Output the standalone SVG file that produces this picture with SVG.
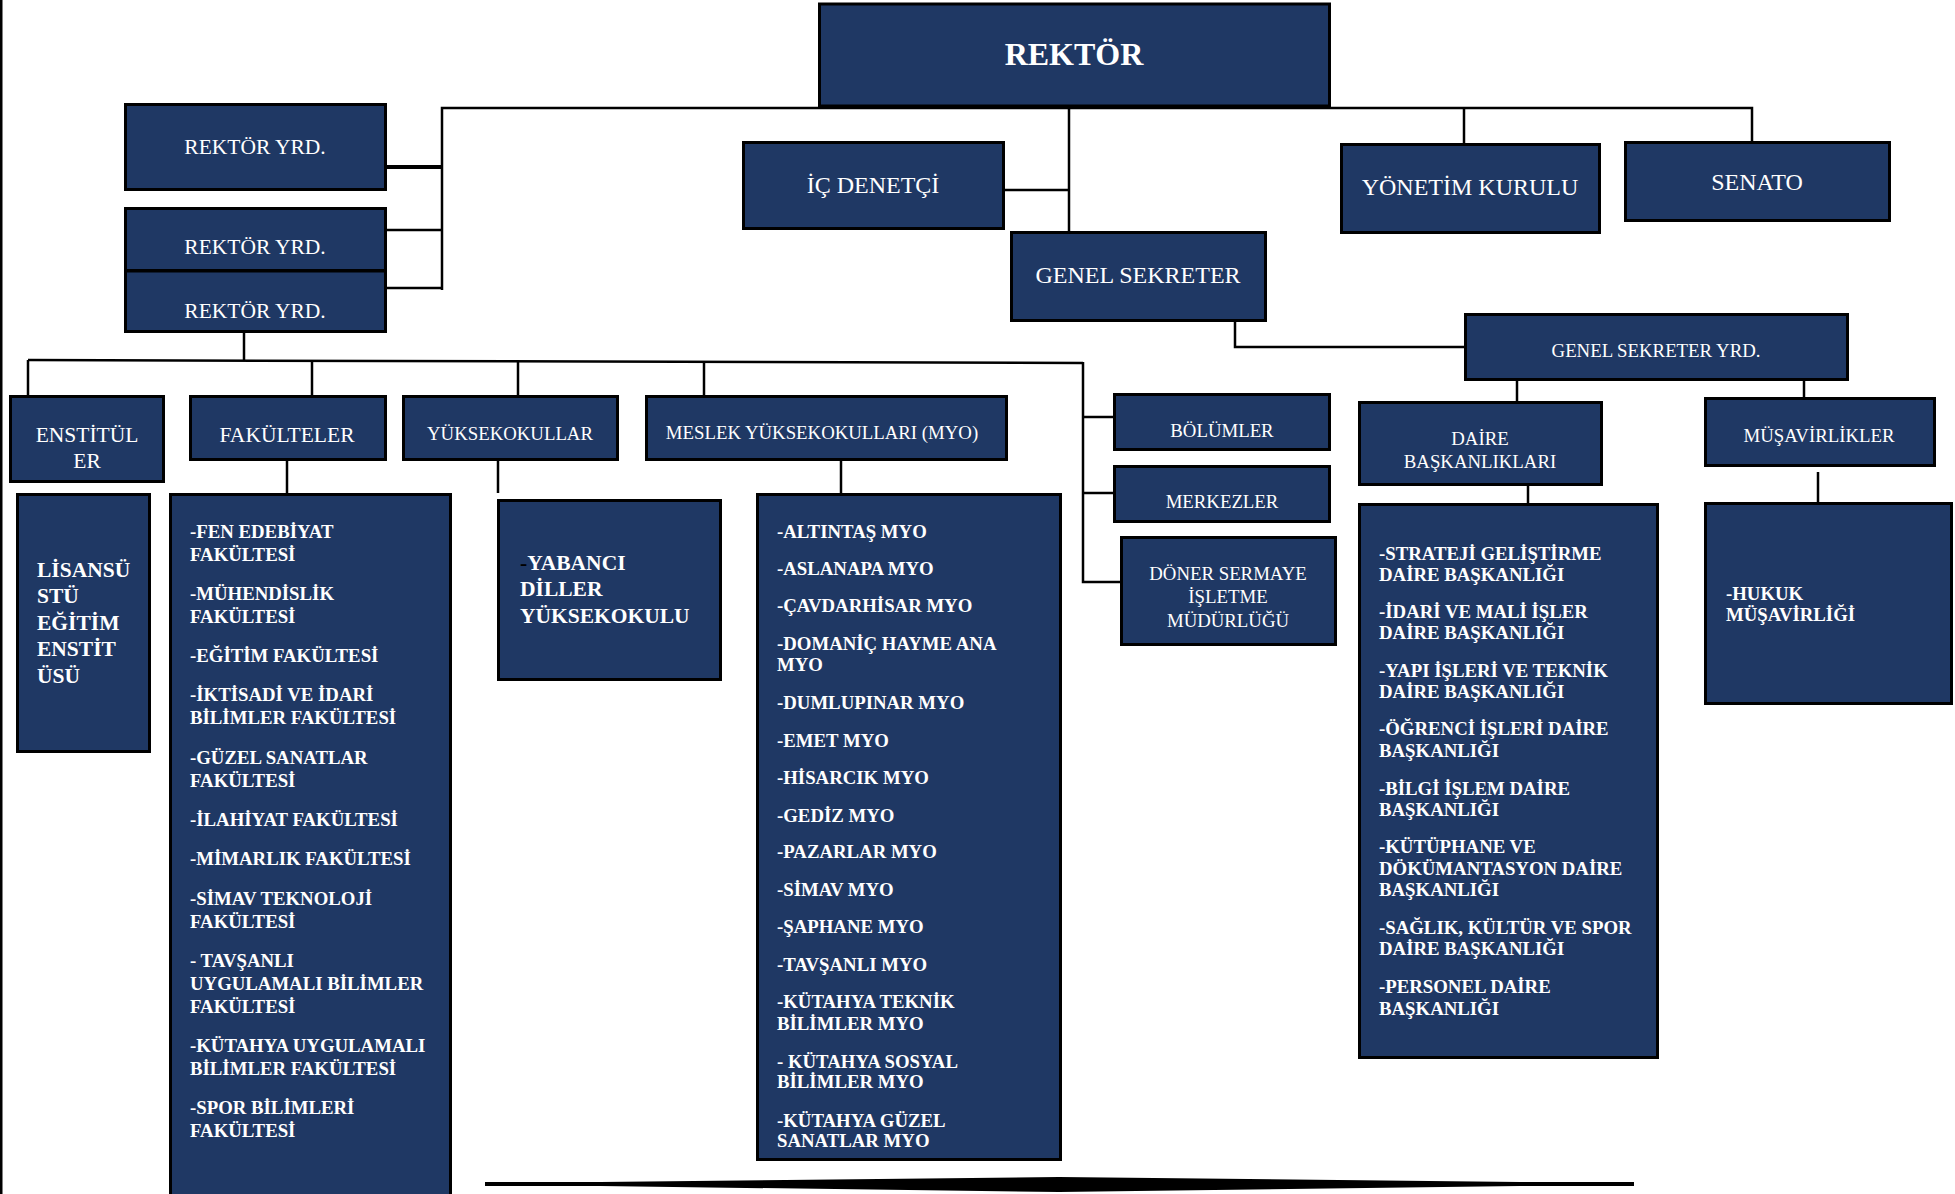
<svg xmlns="http://www.w3.org/2000/svg" width="1955" height="1194" viewBox="0 0 1955 1194">
<style>
.box{fill:#1F3864;stroke:#000;stroke-width:3}
.t{font-family:"Liberation Serif","Times New Roman",serif;fill:#fff}
.c{text-anchor:middle}
.b{font-weight:bold}
.s18{font-size:18.8px}
.s21{font-size:21.5px}
.s23{font-size:24px}
.ln{stroke:#000;stroke-width:2.5;fill:none}
</style>
<rect x="0" y="0" width="1955" height="1194" fill="#fff"/>
<rect x="0" y="0" width="2.5" height="1194" fill="#000"/>

<g id="connectors">
<polyline class="ln" points="442,290 442,108 1752,108 1752,141"/>
<line class="ln" x1="387" y1="167" x2="442" y2="167" style="stroke-width:4"/>
<line class="ln" x1="387" y1="230" x2="442" y2="230"/>
<line class="ln" x1="387" y1="288" x2="442" y2="288"/>
<line class="ln" x1="244" y1="322" x2="244" y2="360"/>
<line class="ln" x1="28" y1="360" x2="1083" y2="363"/>
<line class="ln" x1="28" y1="360" x2="28" y2="395"/>
<line class="ln" x1="312" y1="361" x2="312" y2="395"/>
<line class="ln" x1="518" y1="361" x2="518" y2="395"/>
<line class="ln" x1="704" y1="361" x2="704" y2="395"/>
<polyline class="ln" points="1083,362 1083,582 1120,582"/>
<line class="ln" x1="1083" y1="417" x2="1113" y2="417"/>
<line class="ln" x1="1083" y1="493" x2="1113" y2="493"/>
<line class="ln" x1="1069" y1="107" x2="1069" y2="231"/>
<line class="ln" x1="1005" y1="190" x2="1069" y2="190"/>
<line class="ln" x1="1464" y1="107" x2="1464" y2="166"/>
<polyline class="ln" points="1235,307 1235,347 1464,347"/>
<line class="ln" x1="1517" y1="369" x2="1517" y2="401"/>
<line class="ln" x1="1804" y1="369" x2="1804" y2="397"/>
<line class="ln" x1="1528" y1="472" x2="1528" y2="503"/>
<line class="ln" x1="1818" y1="472" x2="1818" y2="502"/>
<line class="ln" x1="287" y1="461" x2="287" y2="493"/>
<line class="ln" x1="498" y1="461" x2="498" y2="493"/>
<line class="ln" x1="841" y1="461" x2="841" y2="493"/>
</g>

<g id="rektor">
<rect class="box" x="819.5" y="4" width="510" height="102"/>
<text class="t c b" x="1074" y="65" style="font-size:32px">REKTÖR</text>
</g>
<g id="rektor-yrd-1">
<rect class="box" x="125.5" y="104.5" width="260" height="85"/>
<text class="t c s21" x="255" y="154">REKTÖR YRD.</text>
</g>
<g id="rektor-yrd-2">
<rect class="box" x="125.5" y="208.5" width="260" height="62"/>
<text class="t c s21" x="255" y="254">REKTÖR YRD.</text>
</g>
<g id="rektor-yrd-3">
<rect class="box" x="125.5" y="271" width="260" height="60.5"/>
<text class="t c s21" x="255" y="318">REKTÖR YRD.</text>
</g>
<g id="ic-denetci">
<rect class="box" x="743.5" y="142.5" width="260" height="86"/>
<text class="t c s23" x="873" y="193">İÇ DENETÇİ</text>
</g>
<g id="genel-sekreter">
<rect class="box" x="1011.5" y="232.5" width="254" height="88"/>
<text class="t c s23" x="1138" y="283">GENEL SEKRETER</text>
</g>
<g id="yonetim-kurulu">
<rect class="box" x="1341.5" y="144.5" width="258" height="88"/>
<text class="t c s23" x="1470" y="195">YÖNETİM KURULU</text>
</g>
<g id="senato">
<rect class="box" x="1625.5" y="142.5" width="264" height="78"/>
<text class="t c s23" x="1757" y="190">SENATO</text>
</g>
<g id="genel-sekreter-yrd">
<rect class="box" x="1465.5" y="314.5" width="382" height="65"/>
<text class="t c s18" x="1656" y="357">GENEL SEKRETER YRD.</text>
</g>
<g id="enstituler">
<rect class="box" x="10.5" y="396.5" width="153" height="85"/>
<text class="t c s21" x="87" y="442">ENSTİTÜL</text>
<text class="t c s21" x="87" y="468">ER</text>
</g>
<g id="fakulteler">
<rect class="box" x="190.5" y="396.5" width="195" height="63"/>
<text class="t c s21" x="287" y="442">FAKÜLTELER</text>
</g>
<g id="yuksekokullar">
<rect class="box" x="403.5" y="396.5" width="214" height="63"/>
<text class="t c s18" x="510" y="440">YÜKSEKOKULLAR</text>
</g>
<g id="myo">
<rect class="box" x="646.5" y="396.5" width="360" height="63"/>
<text class="t c s18" x="822" y="439">MESLEK YÜKSEKOKULLARI (MYO)</text>
</g>
<g id="bolumler">
<rect class="box" x="1114.5" y="394.5" width="215" height="55"/>
<text class="t c s18" x="1222" y="437">BÖLÜMLER</text>
</g>
<g id="merkezler">
<rect class="box" x="1114.5" y="466.5" width="215" height="55"/>
<text class="t c s18" x="1222" y="508">MERKEZLER</text>
</g>
<g id="doner-sermaye">
<rect class="box" x="1121.5" y="537.5" width="214" height="107"/>
<text class="t c s18" x="1228" y="580">DÖNER SERMAYE</text>
<text class="t c s18" x="1228" y="603">İŞLETME</text>
<text class="t c s18" x="1228" y="627">MÜDÜRLÜĞÜ</text>
</g>
<g id="daire-baskanliklari">
<rect class="box" x="1359.5" y="402.5" width="242" height="82"/>
<text class="t c s18" x="1480" y="445">DAİRE</text>
<text class="t c s18" x="1480" y="468">BAŞKANLIKLARI</text>
</g>
<g id="musavirlikler">
<rect class="box" x="1705.5" y="398.5" width="229" height="67"/>
<text class="t c s18" x="1819" y="442">MÜŞAVİRLİKLER</text>
</g>

<g id="lisansustu">
<rect class="box" x="17.5" y="494.5" width="132" height="257"/>
<text class="t b s21" x="37" y="577">LİSANSÜ</text>
<text class="t b s21" x="37" y="603">STÜ</text>
<text class="t b s21" x="37" y="630">EĞİTİM</text>
<text class="t b s21" x="37" y="656">ENSTİT</text>
<text class="t b s21" x="37" y="683">ÜSÜ</text>
</g>

<g id="fakulte-listesi">
<rect class="box" x="170.5" y="494.5" width="280" height="710"/>
<g class="t b s18">
<text x="190" y="538">-FEN EDEBİYAT</text>
<text x="190" y="561">FAKÜLTESİ</text>
<text x="190" y="600">-MÜHENDİSLİK</text>
<text x="190" y="623">FAKÜLTESİ</text>
<text x="190" y="662">-EĞİTİM FAKÜLTESİ</text>
<text x="190" y="701">-İKTİSADİ VE İDARİ</text>
<text x="190" y="724">BİLİMLER FAKÜLTESİ</text>
<text x="190" y="764">-GÜZEL SANATLAR</text>
<text x="190" y="787">FAKÜLTESİ</text>
<text x="190" y="826">-İLAHİYAT FAKÜLTESİ</text>
<text x="190" y="865">-MİMARLIK FAKÜLTESİ</text>
<text x="190" y="905">-SİMAV TEKNOLOJİ</text>
<text x="190" y="928">FAKÜLTESİ</text>
<text x="190" y="967">- TAVŞANLI</text>
<text x="190" y="990">UYGULAMALI BİLİMLER</text>
<text x="190" y="1013">FAKÜLTESİ</text>
<text x="190" y="1052">-KÜTAHYA UYGULAMALI</text>
<text x="190" y="1075">BİLİMLER FAKÜLTESİ</text>
<text x="190" y="1114">-SPOR BİLİMLERİ</text>
<text x="190" y="1137">FAKÜLTESİ</text>
</g>
</g>

<g id="yabanci-diller">
<rect class="box" x="498.5" y="500.5" width="222" height="179"/>
<text class="t b s21" x="520" y="570"><tspan fill="#000">-</tspan>YABANCI</text>
<text class="t b s21" x="520" y="596">DİLLER</text>
<text class="t b s21" x="520" y="623">YÜKSEKOKULU</text>
</g>

<g id="myo-listesi">
<rect class="box" x="757.5" y="494.5" width="303" height="665"/>
<g class="t b s18">
<text x="777" y="538">-ALTINTAŞ MYO</text>
<text x="777" y="575">-ASLANAPA MYO</text>
<text x="777" y="612">-ÇAVDARHİSAR MYO</text>
<text x="777" y="650">-DOMANİÇ HAYME ANA</text>
<text x="777" y="671">MYO</text>
<text x="777" y="709">-DUMLUPINAR MYO</text>
<text x="777" y="747">-EMET MYO</text>
<text x="777" y="784">-HİSARCIK MYO</text>
<text x="777" y="822">-GEDİZ MYO</text>
<text x="777" y="858">-PAZARLAR MYO</text>
<text x="777" y="896">-SİMAV MYO</text>
<text x="777" y="933">-ŞAPHANE MYO</text>
<text x="777" y="971">-TAVŞANLI MYO</text>
<text x="777" y="1008">-KÜTAHYA TEKNİK</text>
<text x="777" y="1030">BİLİMLER MYO</text>
<text x="777" y="1068">- KÜTAHYA SOSYAL</text>
<text x="777" y="1088">BİLİMLER MYO</text>
<text x="777" y="1127">-KÜTAHYA GÜZEL</text>
<text x="777" y="1147">SANATLAR MYO</text>
</g>
</g>

<g id="daire-listesi">
<rect class="box" x="1359.5" y="504.5" width="298" height="553"/>
<g class="t b s18">
<text x="1379" y="560">-STRATEJİ GELİŞTİRME</text>
<text x="1379" y="581">DAİRE BAŞKANLIĞI</text>
<text x="1379" y="618">-İDARİ VE MALİ İŞLER</text>
<text x="1379" y="639">DAİRE BAŞKANLIĞI</text>
<text x="1379" y="677">-YAPI İŞLERİ VE TEKNİK</text>
<text x="1379" y="698">DAİRE BAŞKANLIĞI</text>
<text x="1379" y="735">-ÖĞRENCİ İŞLERİ DAİRE</text>
<text x="1379" y="757">BAŞKANLIĞI</text>
<text x="1379" y="795">-BİLGİ İŞLEM DAİRE</text>
<text x="1379" y="816">BAŞKANLIĞI</text>
<text x="1379" y="853">-KÜTÜPHANE VE</text>
<text x="1379" y="875">DÖKÜMANTASYON DAİRE</text>
<text x="1379" y="896">BAŞKANLIĞI</text>
<text x="1379" y="934">-SAĞLIK, KÜLTÜR VE SPOR</text>
<text x="1379" y="955">DAİRE BAŞKANLIĞI</text>
<text x="1379" y="993">-PERSONEL DAİRE</text>
<text x="1379" y="1015">BAŞKANLIĞI</text>
</g>
</g>

<g id="hukuk">
<rect class="box" x="1705.5" y="503.5" width="246" height="200"/>
<text class="t b s18" x="1726" y="600">-HUKUK</text>
<text class="t b s18" x="1726" y="621">MÜŞAVİRLİĞİ</text>
</g>

<polygon points="485,1182 600,1182 1059,1177 1520,1182 1634,1182 1634,1186 1520,1186 1059,1192 600,1186 485,1186" fill="#000"/>
</svg>
